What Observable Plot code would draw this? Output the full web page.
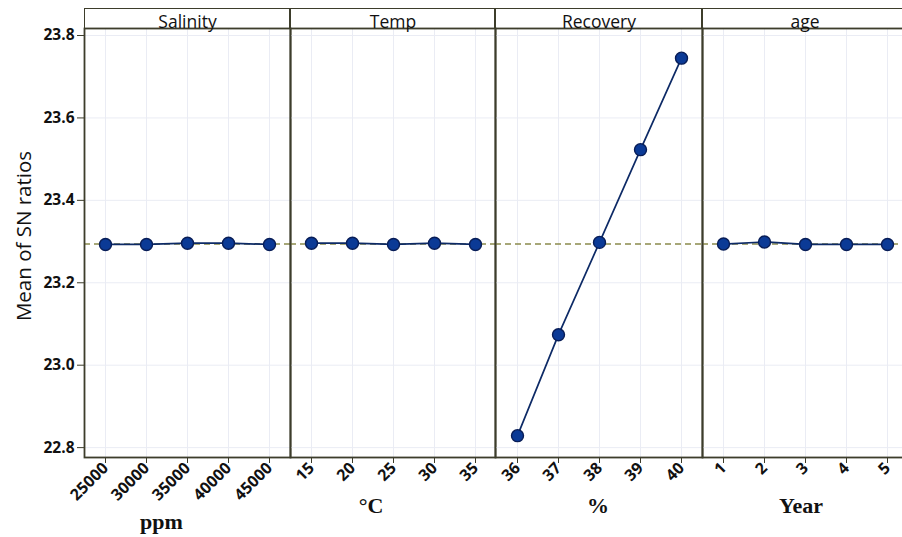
<!DOCTYPE html>
<html>
<head>
<meta charset="utf-8">
<script src="https://cdn.jsdelivr.net/npm/d3@7"></script>
<script src="https://cdn.jsdelivr.net/npm/@observablehq/plot@0.6"></script>
<style>
  html, body { margin: 0; padding: 0; background: #fff; overflow: hidden; }
  #chart { position: relative; width: 902px; height: 537px; overflow: hidden; font-family: "Open Sans", sans-serif; }
  #row { position: absolute; left: 0; top: 0; display: flex; }
  .panel { position: relative; flex: none; }
  .panel svg { overflow: visible; display: block; }
  .strip { position: absolute; top: 8px; height: 21px; box-sizing: border-box;
           border-top: 1.8px solid #3d3d2b; border-left: 1.8px solid #3d3d2b; border-right: 1.8px solid #3d3d2b; }
  .ytitle { position: absolute; left: 23px; top: 236px; transform: translate(-50%, -50%) rotate(-90deg);
            font-size: 20.5px; white-space: nowrap; color: #111; }
</style>
</head>
<body>
<div id="chart">
  <div id="row"></div>
  <div class="ytitle">Mean of SN ratios</div>
</div>
<script>
// ---- data ----
const factors = ["Salinity", "Temp", "Recovery", "age"];
const units = ["ppm", "°C", "%", "Year"];
const salinityLevels = ["25000", "30000", "35000", "40000", "45000"];
const salinityMeans = [23.293, 23.293, 23.296, 23.296, 23.293];
const tempLevels = ["15", "20", "25", "30", "35"];
const tempMeans = [23.296, 23.296, 23.293, 23.296, 23.293];
const recoveryLevels = ["36", "37", "38", "39", "40"];
const recoveryMeans = [22.829, 23.074, 23.298, 23.523, 23.745];
const ageLevels = ["1", "2", "3", "4", "5"];
const ageMeans = [23.294, 23.299, 23.293, 23.293, 23.293];
const overallMean = 23.294;
const yTicks = [22.8, 23.0, 23.2, 23.4, 23.6, 23.8];

// ---- layout ----
const levelsList = [salinityLevels, tempLevels, recoveryLevels, ageLevels];
const meansList = [salinityMeans, tempMeans, recoveryMeans, ageMeans];
const panelWidths = [206, 205, 207, 205];
const unitDx = [-26, -22, -1, -4];
const unitDy = [71, 55, 55, 55];
const axisMargin = 84;
const frameColor = "#3d3d2b";
const gridColor = "#eaecf4";

const row = document.getElementById("row");

factors.forEach((name, i) => {
  const first = i === 0;
  const levels = levelsList[i];
  const data = levels.map((l, j) => ({level: l, mean: meansList[i][j]}));
  const ml = first ? axisMargin : 0;
  const marks = [
    Plot.gridX(levels, {stroke: gridColor, strokeOpacity: 1}),
    Plot.gridY(yTicks, {stroke: gridColor, strokeOpacity: 1}),
    Plot.ruleY([overallMean], {stroke: "#8a8a4c", strokeWidth: 1.6, strokeDasharray: "6,4"}),
    Plot.line(data, {x: "level", y: "mean", stroke: "#0d2a66", strokeWidth: 1.7}),
    Plot.dot(data, {x: "level", y: "mean", r: 6, fill: "#0b3a96", stroke: "#081d57", strokeWidth: 1.4}),
    Plot.frame({stroke: frameColor, strokeWidth: 1.8}),
    Plot.axisX({tickRotate: -45, tickSize: 6, tickPadding: 2, fontSize: 16, fontWeight: "bold", label: null, stroke: frameColor, fill: "#111"}),
    Plot.text([name], {text: d => d, frameAnchor: "top", lineAnchor: "bottom", dy: -1, fontSize: 17.5, fill: "#111"}),
    Plot.text([units[i]], {text: d => d, frameAnchor: "bottom", lineAnchor: "bottom", dx: unitDx[i], dy: unitDy[i],
      fontFamily: "Liberation Serif", fontWeight: "bold", fontSize: 22, fill: "#111"})
  ];
  if (first) {
    marks.push(Plot.axisY(yTicks, {tickSize: 7, tickPadding: 3, tickFormat: ".1f", fontSize: 15.5, fontWeight: "bold", label: null, stroke: frameColor, fill: "#111"}));
  }
  const svg = Plot.plot({
    width: ml + panelWidths[i],
    height: 537,
    marginLeft: ml,
    marginRight: 0,
    marginTop: 28,
    marginBottom: 80,
    style: {fontFamily: "Open Sans, sans-serif", color: "#1e1e1e", background: "transparent", overflow: "visible"},
    x: {type: "point", domain: levels, padding: 0.5, label: null, axis: null},
    y: {domain: [22.776, 23.817], label: null, axis: null},
    marks
  });
  const div = document.createElement("div");
  div.className = "panel";
  div.style.width = (ml + panelWidths[i]) + "px";
  div.appendChild(svg);
  const strip = document.createElement("div");
  strip.className = "strip";
  strip.style.left = ml + "px";
  strip.style.width = panelWidths[i] + "px";
  div.appendChild(strip);
  row.appendChild(div);
});
</script>
</body>
</html>
